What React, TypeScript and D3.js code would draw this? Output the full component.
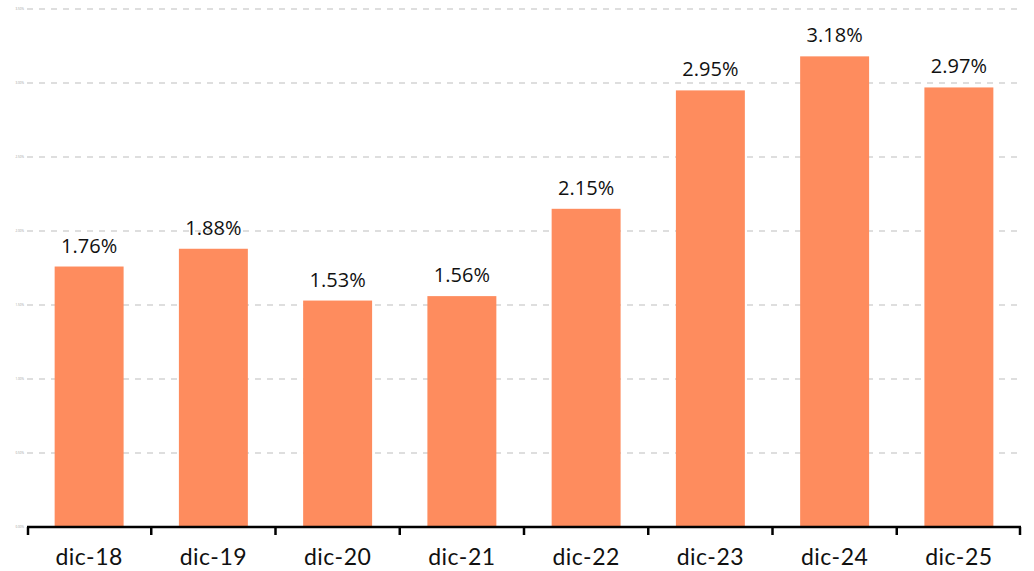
import { useEffect, useRef } from "react";
import * as d3 from "d3";

const categories = ["dic-18", "dic-19", "dic-20", "dic-21", "dic-22", "dic-23", "dic-24", "dic-25"];
const values = [1.76, 1.88, 1.53, 1.56, 2.15, 2.95, 3.18, 2.97];
const yTicks = [0, 0.5, 1, 1.5, 2, 2.5, 3, 3.5];

export default function App() {
  const svgRef = useRef<SVGSVGElement>(null);

  useEffect(() => {
    if (!svgRef.current) return;
    const width = 1034;
    const height = 571;
    const margin = { top: 9, right: 13, bottom: 44, left: 27 };
    const innerWidth = width - margin.left - margin.right;
    const innerHeight = height - margin.top - margin.bottom;

    d3.select(svgRef.current).selectAll("*").remove();
    const svg = d3.select(svgRef.current).attr("width", width).attr("height", height);
    const g = svg.append("g").attr("transform", `translate(${margin.left},${margin.top})`);

    const x = d3.scaleBand<string>().domain(categories).range([0, innerWidth]).paddingInner(0.445).paddingOuter(0.2225);
    const y = d3.scaleLinear().domain([0, 3.5]).range([innerHeight, 0]);

    // gridlines
    g.selectAll(".grid")
      .data(yTicks.slice(1))
      .enter()
      .append("line")
      .attr("x1", 0)
      .attr("x2", innerWidth)
      .attr("y1", (d) => y(d))
      .attr("y2", (d) => y(d))
      .attr("stroke", "#d4d4d4")
      .attr("stroke-width", 1.5)
      .attr("stroke-dasharray", "6,6");

    // tiny y labels
    g.selectAll(".ylab")
      .data(yTicks)
      .enter()
      .append("text")
      .attr("x", -3)
      .attr("y", (d) => y(d) + 1)
      .attr("text-anchor", "end")
      .attr("font-size", 3)
      .attr("fill", "#999")
      .attr("font-family", "Open Sans, sans-serif")
      .text((d) => `${d.toFixed(2)}%`);

    // bars
    g.selectAll(".bar")
      .data(values)
      .enter()
      .append("rect")
      .attr("x", (_, i) => x(categories[i])!)
      .attr("y", (d) => y(d))
      .attr("width", x.bandwidth())
      .attr("height", (d) => innerHeight - y(d))
      .attr("fill", "#fe8c5e");

    // value labels
    g.selectAll(".val")
      .data(values)
      .enter()
      .append("text")
      .attr("x", (_, i) => x(categories[i])! + x.bandwidth() / 2)
      .attr("y", (d) => y(d) - 14)
      .attr("text-anchor", "middle")
      .attr("font-size", 20)
      .attr("fill", "#111")
      .attr("font-family", "Open Sans, sans-serif")
      .text((d) => `${d.toFixed(2)}%`);

    // x axis
    const step = x.step();
    const axis = g.append("g").attr("transform", `translate(0,${innerHeight})`);
    axis.append("line")
      .attr("x1", 0)
      .attr("x2", innerWidth)
      .attr("y1", 0)
      .attr("y2", 0)
      .attr("stroke", "#000")
      .attr("stroke-width", 2.5);
    axis.selectAll(".tick")
      .data(d3.range(categories.length + 1))
      .enter()
      .append("line")
      .attr("x1", (i) => Math.min(Math.max(i * step, 1), innerWidth - 1))
      .attr("x2", (i) => Math.min(Math.max(i * step, 1), innerWidth - 1))
      .attr("y1", 0)
      .attr("y2", 8)
      .attr("stroke", "#000")
      .attr("stroke-width", 2.5);
    axis.selectAll(".xlab")
      .data(categories)
      .enter()
      .append("text")
      .attr("x", (d) => x(d)! + x.bandwidth() / 2)
      .attr("y", 38)
      .attr("text-anchor", "middle")
      .attr("font-size", 23)
      .attr("letter-spacing", 0.5)
      .attr("fill", "#111")
      .attr("font-family", "Lato, sans-serif")
      .text((d) => d);
  }, []);

  return (
    <svg
      ref={svgRef}
      style={{ position: "fixed", top: 0, left: 0, display: "block", background: "#fff" }}
    />
  );
}
